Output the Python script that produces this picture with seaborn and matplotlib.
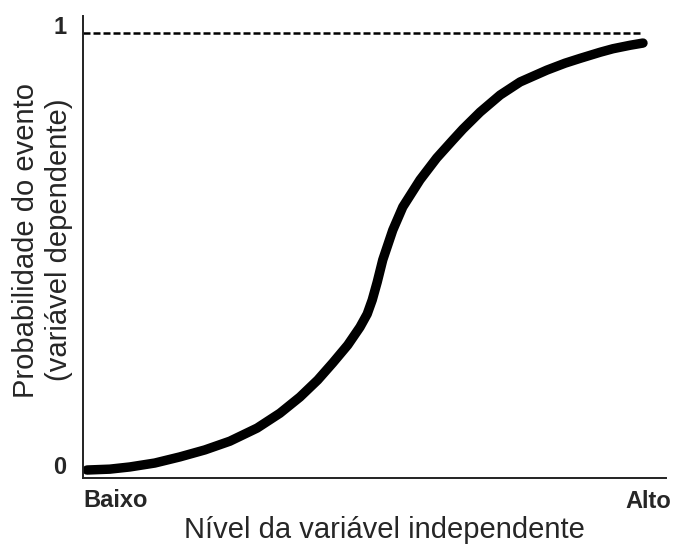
import pandas as pd
import seaborn as sns
import matplotlib.pyplot as plt

# curva (x: 0 = baixo, 1 = alto; y: probabilidade do evento)
x_nivel = [0.000, 0.041, 0.077, 0.122, 0.167, 0.212, 0.257, 0.306, 0.347,
           0.383, 0.415, 0.442, 0.469, 0.491, 0.504, 0.513, 0.522, 0.532,
           0.550, 0.568, 0.599, 0.629, 0.658, 0.676, 0.707, 0.743, 0.779,
           0.827, 0.860, 0.887, 0.923, 0.946, 0.977, 1.000]
y_prob = [0.000, 0.002, 0.007, 0.016, 0.030, 0.046, 0.066, 0.096, 0.130,
          0.167, 0.206, 0.245, 0.286, 0.327, 0.357, 0.389, 0.430, 0.481,
          0.549, 0.602, 0.664, 0.714, 0.755, 0.780, 0.819, 0.858, 0.888,
          0.915, 0.931, 0.942, 0.956, 0.964, 0.972, 0.977]

rotulos_y = ["0", "1"]
rotulos_x = ["Baixo", "Alto"]

sns.set_style("white")
plt.rcParams["font.family"] = ["Liberation Sans", "DejaVu Sans"]

df = pd.DataFrame({"nivel": x_nivel, "prob": y_prob})

fig = plt.figure(figsize=(6.73, 5.48), dpi=100)
ax = fig.add_axes([0.1233, 0.1277, 0.8663, 0.8431])

sns.lineplot(data=df, x="nivel", y="prob", color="black", linewidth=6.8,
             solid_capstyle="round", solid_joinstyle="round", ax=ax)
ax.axhline(1, xmin=0, xmax=0.9605, color="black", linewidth=1.8,
           linestyle=(0, (2.8, 1.2)))

ax.set_xlim(-0.0072, 1.0414)
ax.set_ylim(-0.0183, 1.0389)

for lado in ["top", "right"]:
    ax.spines[lado].set_visible(False)
for lado in ["left", "bottom"]:
    ax.spines[lado].set_color("#222222")
    ax.spines[lado].set_linewidth(1.4)

ax.set_xticks([])
ax.set_yticks([0.011, 1.018])
ax.set_yticklabels(rotulos_y, fontsize=17, fontweight="bold")
ax.tick_params(axis="y", length=0, pad=12)

ax.text(0, -0.0476, rotulos_x[0], transform=ax.transAxes, ha="left",
        va="center", fontsize=17, fontweight="bold")
ax.text(1.0086, -0.051, rotulos_x[1], transform=ax.transAxes, ha="right",
        va="center", fontsize=17, fontweight="bold")

ax.set_xlabel("Nível da variável independente", fontsize=21)
ax.xaxis.set_label_coords(0.517, -0.1125)
ax.xaxis.label.set_verticalalignment("center")

ax.set_ylabel("Probabilidade do evento\n(variável dependente)", fontsize=21)
ax.yaxis.set_label_coords(-0.0695, 0.515)
ax.yaxis.label.set_verticalalignment("center")

fig.savefig("out.png", dpi=100)
